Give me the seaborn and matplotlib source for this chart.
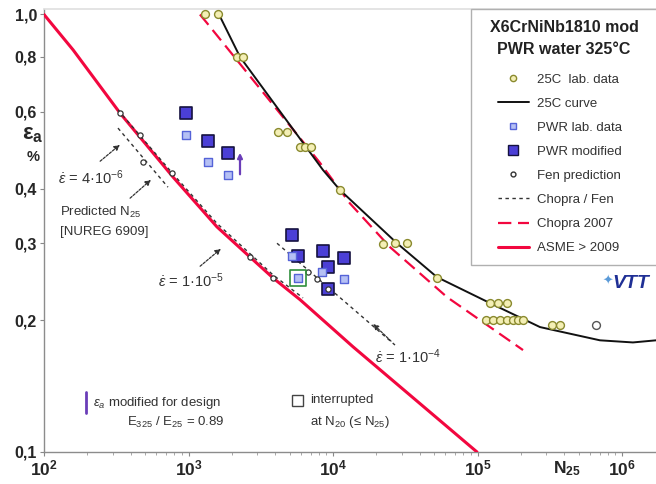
import matplotlib
matplotlib.use('Agg')
import matplotlib.pyplot as plt
import seaborn as sns
from matplotlib.lines import Line2D
from matplotlib.patches import Rectangle
from matplotlib.ticker import FixedLocator, FixedFormatter, LogLocator, NullFormatter, NullLocator

# ---- data ----
asme_n = [100, 159, 336, 782, 1574, 2665, 3843, 5909, 13750, 99200]
asme_e = [1.0, 0.830, 0.595, 0.425, 0.327, 0.279, 0.250, 0.223, 0.174, 0.100]

chopra_n = [1200, 1343, 8130, 13100, 24800, 61500, 206500]
chopra_e = [1.0, 0.956, 0.458, 0.370, 0.294, 0.226, 0.171]

c25_n = [1626, 2272, 8530, 11180, 27730, 52450, 122000, 270700, 704000, 1190000, 1720000]
c25_e = [1.0, 0.80, 0.441, 0.397, 0.300, 0.251, 0.219, 0.193, 0.180, 0.178, 0.180]

lab25_n = [1300, 1600, 2166, 2384, 4164, 4806, 5909, 6400, 7044, 11180, 22180, 26850, 32520,
           52450, 122000, 138700, 160000, 114500, 128000, 143100, 160000, 176100, 190600,
           206500, 328000, 372000]
lab25_e = [1.0, 1.0, 0.80, 0.80, 0.539, 0.539, 0.498, 0.498, 0.498, 0.397, 0.299, 0.30, 0.30,
           0.25, 0.219, 0.219, 0.219, 0.20, 0.20, 0.20, 0.20, 0.20, 0.20, 0.20, 0.195, 0.195]
runout_n = [661000]
runout_e = [0.195]

pwr_mod_n = [961, 1364, 1877, 5204, 5726, 8530, 11920, 9230, 9230]
pwr_mod_e = [0.595, 0.514, 0.483, 0.313, 0.2805, 0.288, 0.2776, 0.2647, 0.2358]
pwr_lab_n = [961, 1364, 1877, 5204, 8395, 11920, 5726]
pwr_lab_e = [0.530, 0.460, 0.430, 0.2805, 0.258, 0.2485, 0.250]
interrupted_n = [5726]
interrupted_e = [0.250]

fen_n = [336, 462, 484, 769, 2665, 3843, 6714, 7748, 9230]
fen_e = [0.595, 0.530, 0.460, 0.434, 0.279, 0.2498, 0.258, 0.2485, 0.2358]

cf_4e6_n = [325, 721]
cf_4e6_e = [0.550, 0.403]
cf_1e5_n = [325, 782, 1574, 2665, 3843, 6200]
cf_1e5_e = [0.605, 0.432, 0.333, 0.284, 0.254, 0.225]
cf_1e4_n = [4098, 26850]
cf_1e4_e = [0.300, 0.1756]

design_n = 2272
design_e = [0.425, 0.490]

ytick_vals = [0.1, 0.2, 0.3, 0.4, 0.6, 0.8, 1.0]
ytick_labels = ['0,1', '0,2', '0,3', '0,4', '0,6', '0,8', '1,0']
xtick_vals = [1e2, 1e3, 1e4, 1e5, 1e6]
xtick_labels = [r'$\mathbf{10^{2}}$', r'$\mathbf{10^{3}}$', r'$\mathbf{10^{4}}$',
                r'$\mathbf{10^{5}}$', r'$\mathbf{10^{6}}$']

RED = '#f2073f'
W, H = 656, 484

sns.set_theme(style='white')
plt.rcParams['font.family'] = ['Liberation Sans', 'DejaVu Sans']
plt.rcParams['mathtext.fontset'] = 'custom'
plt.rcParams['mathtext.rm'] = 'Liberation Sans'
plt.rcParams['mathtext.it'] = 'Liberation Sans:italic'
plt.rcParams['mathtext.bf'] = 'Liberation Sans:bold'


def fp(x, y):
    # pixel position (from top-left) to figure fraction
    return x / W, 1 - y / H


fig = plt.figure(figsize=(W / 100, H / 100), dpi=100)
ax = fig.add_axes([44 / W, 32 / H, 612 / W, 443 / H])
ax.set_xscale('log')
ax.set_yscale('log')

# curves
sns.lineplot(x=asme_n, y=asme_e, ax=ax, color=RED, lw=2.2, sort=False, estimator=None, zorder=3)
sns.lineplot(x=chopra_n, y=chopra_e, ax=ax, color=RED, lw=1.6, sort=False, estimator=None,
             zorder=3).lines[-1].set_dashes((6, 3))
sns.lineplot(x=c25_n, y=c25_e, ax=ax, color='#111111', lw=1.4, sort=False, estimator=None, zorder=3)
for xs, ys in [(cf_4e6_n, cf_4e6_e), (cf_1e5_n, cf_1e5_e), (cf_1e4_n, cf_1e4_e)]:
    ln = sns.lineplot(x=xs, y=ys, ax=ax, color='#333333', lw=1.0, sort=False,
                      estimator=None, zorder=4).lines[-1]
    ln.set_dashes((2.5, 2.5))

# points
sns.scatterplot(x=lab25_n, y=lab25_e, ax=ax, marker='o', s=32, color='#f4efb5',
                edgecolor='#8a8a2e', linewidth=1.0, zorder=5)
sns.scatterplot(x=runout_n, y=runout_e, ax=ax, marker='o', s=32, color='white',
                edgecolor='#555555', linewidth=1.0, zorder=5)
sns.scatterplot(x=pwr_mod_n, y=pwr_mod_e, ax=ax, marker='s', s=75, color='#4b3fd6',
                edgecolor='#15123f', linewidth=1.2, zorder=5)
sns.scatterplot(x=pwr_lab_n, y=pwr_lab_e, ax=ax, marker='s', s=38, color='#b5c0f4',
                edgecolor='#5563d8', linewidth=1.0, zorder=6)
sns.scatterplot(x=fen_n, y=fen_e, ax=ax, marker='o', s=14, color='white',
                edgecolor='#333333', linewidth=0.9, zorder=7)
sns.scatterplot(x=interrupted_n, y=interrupted_e, ax=ax, marker='s', s=140, color='none',
                edgecolor='#2f8f3c', linewidth=1.2, zorder=7)
ax.annotate('', xy=(design_n, design_e[1]), xytext=(design_n, design_e[0]),
            arrowprops=dict(arrowstyle='-|>', color='#6a3db8', lw=1.6, mutation_scale=7))

# axes
ax.set_xlim(100, 10 ** (2 + 612 / 144.5))
ax.set_ylim(0.1, 10 ** (5.5 / 437.5))
ax.yaxis.set_major_locator(FixedLocator(ytick_vals))
ax.yaxis.set_major_formatter(FixedFormatter(ytick_labels))
ax.yaxis.set_minor_locator(NullLocator())
ax.xaxis.set_major_locator(FixedLocator(xtick_vals))
ax.xaxis.set_major_formatter(FixedFormatter(xtick_labels))
ax.xaxis.set_minor_locator(LogLocator(base=10, subs=range(2, 10)))
ax.xaxis.set_minor_formatter(NullFormatter())
ax.tick_params(axis='both', which='major', length=3, width=0.8, color='#888888', pad=3)
ax.tick_params(axis='x', which='minor', length=2, width=0.6, color='#999999', bottom=True)
ax.tick_params(axis='y', labelsize=11.5, left=True, pad=2)
ax.tick_params(axis='x', labelsize=12.5, pad=2, bottom=True)
for lab in ax.get_yticklabels():
    lab.set_fontweight('bold')
for s in ['left', 'bottom']:
    ax.spines[s].set_color('#8c8c8c')
    ax.spines[s].set_linewidth(1.0)
ax.spines['top'].set_color('#e0e0e0')
ax.spines['right'].set_visible(False)
ax.set_xlabel('')
ax.set_ylabel('')

# axis titles
fig.text(*fp(33, 134), r'$\mathbf{\varepsilon_a}$', fontsize=16, ha='center', va='center')
fig.text(*fp(33, 157), '%', fontsize=10.5, fontweight='bold', ha='center', va='center')
fig.text(*fp(567, 469), r'$\mathbf{N_{25}}$', fontsize=12.5, ha='center', va='center')

# annotations
TXT = '#333333'
arr = dict(arrowstyle='-|>', color='#333333', lw=0.9, linestyle=(0, (2, 1.2)), mutation_scale=8)
fig.text(*fp(58, 178), r'$\dot{\varepsilon}$ = 4·10$^{-6}$', fontsize=10.5, color=TXT, va='center')
ax.annotate('', xy=fp(122, 143), xytext=fp(98, 163), xycoords='figure fraction',
            textcoords='figure fraction', arrowprops=arr)
fig.text(*fp(60, 212), r'Predicted N$_{25}$', fontsize=9.5, color=TXT, va='center')
fig.text(*fp(60, 232), '[NUREG 6909]', fontsize=9.5, color=TXT, va='center')
ax.annotate('', xy=fp(153, 178), xytext=fp(128, 200), xycoords='figure fraction',
            textcoords='figure fraction', arrowprops=arr)
fig.text(*fp(158, 281), r'$\dot{\varepsilon}$ = 1·10$^{-5}$', fontsize=10.5, color=TXT, va='center')
ax.annotate('', xy=fp(223, 247), xytext=fp(198, 268), xycoords='figure fraction',
            textcoords='figure fraction', arrowprops=arr)
fig.text(*fp(375, 357), r'$\dot{\varepsilon}$ = 1·10$^{-4}$', fontsize=10.5, color=TXT, va='center')
ax.annotate('', xy=fp(371, 322), xytext=fp(393, 343), xycoords='figure fraction',
            textcoords='figure fraction', arrowprops=arr)

# bottom notes
fig.add_artist(Line2D([86 / W, 86 / W], [1 - 392 / H, 1 - 413 / H], color='#6a3db8', lw=2))
fig.text(*fp(93, 403), r'$\varepsilon_a$ modified for design', fontsize=9.5, color=TXT, va='center')
fig.text(*fp(127, 422), r'E$_{325}$ / E$_{25}$ = 0.89', fontsize=9.5, color=TXT, va='center')
fig.add_artist(Rectangle(fp(292, 406), 11 / W, 11 / H, fill=False, edgecolor='#444444', lw=1.0))
fig.text(*fp(310, 400), 'interrupted', fontsize=9.5, color=TXT, va='center')
fig.text(*fp(310, 422), r'at N$_{20}$ (≤ N$_{25}$)', fontsize=9.5, color=TXT, va='center')

# VTT mark
fig.text(*fp(603, 281), '✦', fontsize=9, color='#5a9ad8', family='DejaVu Sans', va='center')
fig.text(*fp(612, 284), 'VTT', fontsize=14, color='#1f2f95', fontweight='heavy',
         fontstyle='italic', va='center')

# legend box, title and legend
ax.add_patch(Rectangle(fp(471, 265), 250 / W, 256 / H, transform=fig.transFigure,
                       facecolor='white', edgecolor='#b0b0b0', lw=1.0, clip_on=False, zorder=8))
for ty, tt in [(28, 'X6CrNiNb1810 mod'), (50, 'PWR water 325°C')]:
    fig.text(*fp(564, ty), tt, fontsize=11.5, fontweight='bold', color='#222222',
             ha='center', va='center', zorder=10)
handles = [
    Line2D([], [], marker='o', ls='none', mfc='#f4efb5', mec='#8a8a2e', ms=4.5),
    Line2D([], [], color='#111111', lw=1.4),
    Line2D([], [], marker='s', ls='none', mfc='#b5c0f4', mec='#5563d8', ms=5),
    Line2D([], [], marker='s', ls='none', mfc='#4b3fd6', mec='#15123f', ms=7),
    Line2D([], [], marker='o', ls='none', mfc='white', mec='#333333', ms=3.5),
    Line2D([], [], color='#333333', lw=1.0, dashes=(2.5, 2.5)),
    Line2D([], [], color=RED, lw=1.6, dashes=(6, 3)),
    Line2D([], [], color=RED, lw=2.2),
]
labels = ['25C  lab. data', '25C curve', 'PWR lab. data', 'PWR modified', 'Fen prediction',
          'Chopra / Fen', 'Chopra 2007', 'ASME > 2009']
leg = ax.legend(handles, labels, loc='upper left', bbox_to_anchor=fp(493, 68),
                bbox_transform=fig.transFigure, frameon=False, fontsize=9.5,
                handlelength=2.3, handletextpad=0.6, labelspacing=0.9, borderaxespad=0)
for t in leg.get_texts():
    t.set_color(TXT)
leg.set_zorder(9)

fig.savefig('out.png', dpi=100)
